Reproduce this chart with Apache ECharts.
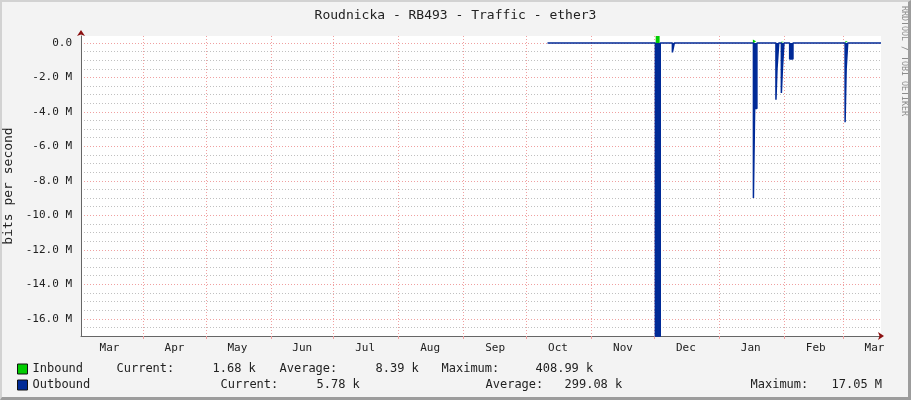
<!DOCTYPE html>
<html>
<head>
<meta charset="utf-8">
<script src="https://cdn.jsdelivr.net/npm/echarts@6/dist/echarts.min.js"></script>
<style>
  html, body { margin: 0; padding: 0; background: #f3f3f3; }
  #wrap { position: relative; width: 911px; height: 400px; }
  #chart { position: absolute; left: 0; top: 0; width: 911px; height: 400px; }
  #frame { position: absolute; left: 0; top: 0; width: 911px; height: 400px; box-sizing: border-box;
           border-top: 2px solid #d2d2d2; border-left: 2px solid #d2d2d2;
           border-right: 3px solid #9c9c9c; border-bottom: 3px solid #9c9c9c; pointer-events: none; }
</style>
</head>
<body>
<div id="wrap"><div id="chart"></div><div id="frame"></div></div>
<script>
// ---- data ----
const chartTitle = 'Roudnicka - RB493 - Traffic - ether3';
const yAxisTitle = 'bits per second';
const xRange = ['2024-03-02 10:00', '2025-03-19 03:00'];
const monthStarts = ['2024-04-01','2024-05-01','2024-06-01','2024-07-01','2024-08-01','2024-09-01',
                     '2024-10-01','2024-11-01','2024-12-01','2025-01-01','2025-02-01','2025-03-01'];
const labelDates = ['2024-03-16','2024-04-16','2024-05-16','2024-06-16','2024-07-16','2024-08-16','2024-09-16',
                    '2024-10-16','2024-11-16','2024-12-16','2025-01-16','2025-02-16','2025-03-16'];
const monthLabels = ['Mar','Apr','May','Jun','Jul','Aug','Sep','Oct','Nov','Dec','Jan','Feb','Mar'];

// inbound: only the visible bursts (null = gap between bursts)
const inTimes  = ['2024-12-01 15:00','2024-12-03 12:00','2024-12-03 13:00',
                  '2025-01-17 00:00','2025-01-17 12:00','2025-01-18 12:00','2025-01-18 13:00',
                  '2025-01-28 16:00','2025-01-29 12:00','2025-01-29 13:00',
                  '2025-01-30 12:00','2025-01-31 18:00','2025-01-31 19:00',
                  '2025-03-02 02:00','2025-03-03 06:00'];
const inValues = [409e3, 0, null,
                  200e3, 100e3, 0, null,
                  80e3, 0, null,
                  60e3, 0, null,
                  100e3, 0];

const outTimes  = ['2024-10-11 00:00','2024-12-01 11:00','2024-12-03 19:00','2024-12-09 14:00','2024-12-10 12:00',
                   '2025-01-17 06:00','2025-01-17 20:00','2025-01-18 22:00',
                   '2025-01-28 00:00','2025-01-28 12:00','2025-01-29 08:00',
                   '2025-01-30 14:00','2025-01-31 02:00','2025-01-31 20:00',
                   '2025-02-03 13:00','2025-02-05 03:00',
                   '2025-03-02 00:00','2025-03-02 12:00','2025-03-03 06:00','2025-03-19 03:00'];
const outValues = [-6e3, -17.05e6, -6e3, -0.55e6, -6e3,
                   -9e6, -3.8e6, -6e3,
                   -3.3e6, -1.5e6, -6e3,
                   -2.9e6, -1.5e6, -6e3,
                   -0.93e6, -6e3,
                   -4.6e6, -1.5e6, -5.78e3, -5.78e3];

const seriesNames = ['Inbound', 'Outbound'];
const inStats  = ['1.68 k', '8.39 k', '408.99 k'];
const outStats = ['5.78 k', '299.08 k', '17.05 M'];
const statNames = ['Current:', 'Average:', 'Maximum:'];

// ---- helpers ----
function ts(s) {
  const parts = s.split(' ');
  const d = parts[0].split('-').map(Number);
  const t = (parts[1] || '00:00').split(':').map(Number);
  return new Date(d[0], d[1] - 1, d[2], t[0], t[1]).getTime();
}
const xMin = ts(xRange[0]), xMax = ts(xRange[1]);
const inData = inTimes.map((t, i) => [ts(t), inValues[i]]);
const outData = outTimes.map((t, i) => [ts(t), outValues[i]]);
const labelTs = labelDates.map(ts);
const tickTs = monthStarts.map(ts);

const FONT = '"DejaVu Sans Mono", monospace';
const GREY = '#c0c0c0', RED = '#f0a0a0';
const yMin = -17e6, yMax = 0.4e6;

function tok(w) { return { width: w, align: 'left', fontFamily: FONT, fontSize: 12, color: '#222', lineHeight: 14 }; }

const chart = echarts.init(document.getElementById('chart'), null, { renderer: 'canvas' });
chart.setOption({
  animation: false,
  backgroundColor: '#f3f3f3',
  title: {
    text: chartTitle, left: 'center', top: 4,
    textStyle: { fontFamily: FONT, fontSize: 13, fontWeight: 'normal', color: '#222' }
  },
  graphic: [{
    type: 'text', x: 908, y: 6, rotation: -Math.PI / 2,
    style: { text: 'RRDTOOL / TOBI OETIKER', fill: '#8c8c8c', font: '8.3px ' + FONT, textAlign: 'left', textVerticalAlign: 'top' }
  }],
  legend: {
    orient: 'vertical', left: 17, top: 363, padding: 0, itemWidth: 10, itemHeight: 10, itemGap: 4,
    icon: 'rect', selectedMode: false,
    itemStyle: { borderColor: '#111', borderWidth: 1 },
    data: seriesNames,
    formatter: function (name) {
      const st = name === seriesNames[0] ? inStats : outStats;
      const p = name === seriesNames[0] ? 'a' : 'b';
      return '{' + p + 'n|' + name + '}{' + p + 'l1|' + statNames[0] + '}{' + p + 'v1|' + st[0] +
             '}{' + p + 'l2|' + statNames[1] + '}{' + p + 'v2|' + st[1] +
             '}{' + p + 'l3|' + statNames[2] + '}{' + p + 'v3|' + st[2] + '}';
    },
    textStyle: {
      fontFamily: FONT, fontSize: 12, color: '#222',
      rich: {
        an: tok(84), al1: tok(96), av1: tok(67), al2: tok(96), av2: tok(66), al3: tok(94), av3: tok(60),
        bn: tok(188), bl1: tok(96), bv1: tok(169), bl2: tok(79), bv2: tok(186), bl3: tok(81), bv3: tok(70)
      }
    }
  },
  grid: { left: 81, top: 36, width: 800, height: 300, show: true, backgroundColor: '#ffffff', borderWidth: 0,
          containLabel: false, outerBoundsMode: 'none' },
  xAxis: [{
    type: 'value', min: xMin, max: xMax,
    axisLine: { show: true, onZero: false, lineStyle: { color: '#666', width: 1 } },
    axisTick: { show: true, customValues: tickTs, length: 3, lineStyle: { color: RED } },
    splitLine: { show: true, customValues: tickTs, lineStyle: { color: RED, type: [1, 2], width: 1 } },
    axisLabel: {
      customValues: labelTs, margin: 7, fontFamily: FONT, fontSize: 11, color: '#222', hideOverlap: false,
      formatter: function (v) { const i = labelTs.indexOf(v); return i >= 0 ? monthLabels[i] : ''; }
    }
  }, {
    type: 'value', min: xMin, max: xMax, position: 'bottom',
    axisLine: { show: true, onZero: false, symbol: ['none', 'arrow'], symbolSize: [6, 6], symbolOffset: [0, 3],
                lineStyle: { color: '#8b1010', width: 0 } },
    axisTick: { show: false }, axisLabel: { show: false }, splitLine: { show: false }
  }],
  yAxis: [{
    type: 'value', min: yMin, max: yMax, interval: 0.5e6,
    name: yAxisTitle, nameLocation: 'middle', nameGap: 57,
    nameTextStyle: { fontFamily: FONT, fontSize: 13, color: '#222' },
    axisLine: { show: true, lineStyle: { color: '#666', width: 1 } },
    axisTick: { show: false },
    splitLine: { show: true, showMaxLine: false, lineStyle: { color: [GREY, GREY, RED, GREY], type: [1, 2], width: 1 } },
    axisLabel: {
      margin: 9, fontFamily: FONT, fontSize: 11, color: '#222', showMaxLabel: true, showMinLabel: true,
      formatter: function (v) {
        if (Math.abs(v) < 1) return '0.0';
        const m = v / 1e6;
        if (Math.abs(m / 2 - Math.round(m / 2)) < 1e-6 && v < 0) return m.toFixed(1) + ' M';
        return '';
      }
    }
  }, {
    type: 'value', min: yMin, max: yMax, position: 'left',
    axisLine: { show: true, symbol: ['none', 'arrow'], symbolSize: [6, 6], symbolOffset: [0, 6],
                lineStyle: { color: '#8b1010', width: 0 } },
    axisTick: { show: false }, axisLabel: { show: false }, splitLine: { show: false }
  }],
  series: [{
    name: seriesNames[0], type: 'line', step: 'end', data: inData, symbol: 'none', connectNulls: false,
    color: '#00cc00', lineStyle: { width: 0 }, areaStyle: { color: '#00cc00', opacity: 1 }, z: 1
  }, {
    name: seriesNames[1], type: 'line', step: 'end', data: outData, symbol: 'none',
    color: '#002a97', lineStyle: { width: 1.5, color: '#002a97' }, areaStyle: { color: '#002a97', opacity: 1 }, z: 3
  }]
});
</script>
</body>
</html>
